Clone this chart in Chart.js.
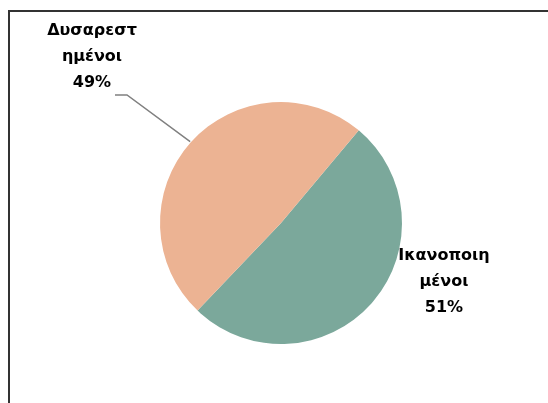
<!DOCTYPE html>
<html>
<head>
<meta charset="utf-8">
<script src="https://cdn.jsdelivr.net/npm/chart.js@4"></script>
<style>
  html, body { margin: 0; padding: 0; background: #fff; }
  #wrap { width: 548px; height: 403px; position: relative; }
</style>
</head>
<body>
<div id="wrap"><canvas id="grafico" width="548" height="403"></canvas></div>
<script>
const categorias = ["Ικανοποιη μένοι", "Δυσαρεστ ημένοι"];
const etiquetas = [["Ικανοποιη", "μένοι", "51%"], ["Δυσαρεστ", "ημένοι", "49%"]];
const valores = [51, 49];
const colores = ["#7BA89B", "#ECB393"];

// marco y etiquetas con línea guía
const etiquetasPlugin = {
  id: "etiquetas",
  beforeDraw(chart) {
    const ctx = chart.ctx;
    ctx.save();
    ctx.strokeStyle = "#333";
    ctx.lineWidth = 2;
    ctx.beginPath();
    ctx.moveTo(9, 403);
    ctx.lineTo(9, 11);
    ctx.lineTo(548, 11);
    ctx.stroke();
    ctx.restore();
  },
  afterDraw(chart) {
    const ctx = chart.ctx;
    const arcs = chart.getDatasetMeta(0).data;
    const cx = arcs[0].x, cy = arcs[0].y, r = arcs[0].outerRadius;
    ctx.save();
    ctx.font = "bold 16px 'DejaVu Sans', sans-serif";
    ctx.fillStyle = "#000";
    ctx.textAlign = "center";
    ctx.textBaseline = "alphabetic";
    // etiqueta derecha
    etiquetas[0].forEach((t, i) => ctx.fillText(t, cx + 163, cy + 37 + i * 26));
    // etiqueta izquierda
    etiquetas[1].forEach((t, i) => ctx.fillText(t, cx - 189, cy - 188 + i * 26));
    // línea guía
    ctx.strokeStyle = "#808080";
    ctx.lineWidth = 1.5;
    ctx.beginPath();
    ctx.moveTo(cx - 166, cy - 128);
    ctx.lineTo(cx - 154, cy - 128);
    const a = -Math.PI / 2 - 0.84;
    ctx.lineTo(cx + Math.cos(a) * (r + 1), cy + Math.sin(a) * (r + 1));
    ctx.stroke();
    ctx.restore();
  }
};

const ctx = document.getElementById("grafico").getContext("2d");
const chart = new Chart(ctx, {
  type: "pie",
  data: {
    labels: categorias,
    datasets: [{
      data: valores,
      backgroundColor: colores,
      borderWidth: 0,
    }],
  },
  options: {
    responsive: false,
    animation: false,
    rotation: 40,
    layout: { padding: { left: 160, right: 146, top: 102, bottom: 59 } },
    plugins: {
      legend: { display: false },
      tooltip: { enabled: false },
    },
  },
  plugins: [etiquetasPlugin],
});
</script>
</body>
</html>
